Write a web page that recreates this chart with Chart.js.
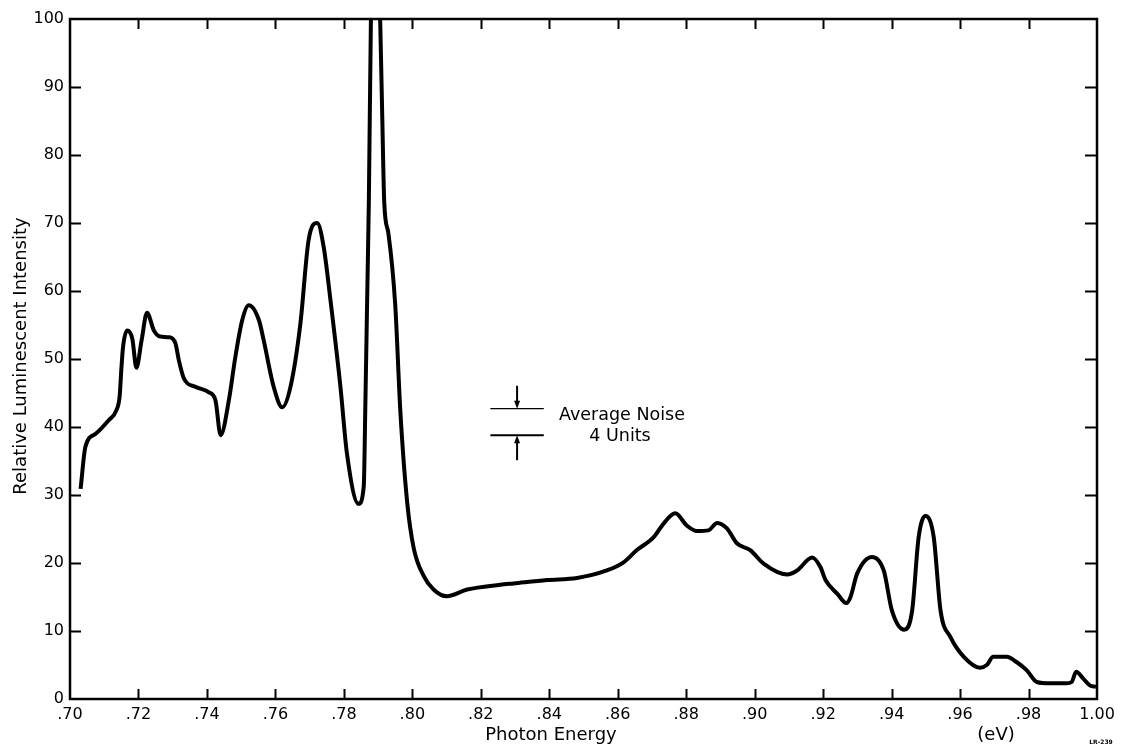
<!DOCTYPE html>
<html>
<head>
<meta charset="utf-8">
<title>Luminescence spectrum</title>
<script src="https://cdn.jsdelivr.net/npm/chart.js"></script>
<style>
  html, body { margin: 0; padding: 0; background: #fff; }
  #wrap { width: 1122px; height: 753px; }
</style>
</head>
<body>
<div id="wrap"><canvas id="chart" width="1122" height="753"></canvas></div>
<script>
// photon energy (eV) and relative luminescent intensity
const energy = [
  .7031, .7045, .7075, .7113, .7135, .7145, .7150, .7155, .7167, .7182,
  .7194, .7209, .7225, .7245, .7264, .7289, .7308, .7318, .7333, .7367,
  .7406, .7425, .7440, .7464, .7483, .7503, .7522, .7552, .7566, .7595,
  .7620, .7644, .7673, .7697, .7722, .7741, .7761, .7790, .7809, .7843,
  .7858, .7863, .7868, .7873, .7879, .7893, .7906, .7912, .7918, .7930,
  .7950, .7965, .7985, .8004, .8033, .8062, .8101, .8160, .8257, .8296,
  .8394, .8481, .8568, .8617, .8656, .8705, .8734, .8768, .8802, .8831,
  .8865, .8890, .8919, .8948, .8987, .9026, .9095, .9124, .9168, .9192,
  .9207, .9241, .9268, .9280, .9299, .9343, .9377, .9401, .9437, .9460,
  .9479, .9499, .9523, .9543, .9572, .9611, .9658, .9678, .9697, .9736,
  .9766, .9795, .9824, .9863, .9911, .9926, .9939, .9960, .9979, .9997
];
const intensity = [
  30.9, 37.1, 39.0, 41.0, 42.4, 44.5, 48.5, 51.8, 54.2, 53.0,
  48.7, 52.7, 56.8, 54.2, 53.3, 53.2, 52.3, 49.8, 47.1, 45.9,
  45.1, 43.9, 38.8, 43.9, 50.3, 55.7, 57.9, 55.7, 52.7, 45.9,
  42.9, 45.9, 55.2, 67.5, 70.0, 66.5, 58.6, 45.9, 36.1, 28.7,
  31.2, 43.9, 58.6, 73.3, 100, 125, 100, 86, 73, 68.5,
  58, 42.3, 28.9, 22.2, 18.1, 16.1, 15.1, 16.1, 16.8, 17.0,
  17.5, 17.8, 18.9, 20.1, 21.9, 23.8, 25.8, 27.3, 25.5, 24.7,
  24.8, 25.9, 25.1, 22.9, 21.9, 19.9, 18.3, 18.9, 20.8, 19.4,
  17.5, 15.5, 14.1, 15.0, 18.4, 20.9, 18.9, 13.0, 10.2, 13.0,
  23.8, 26.9, 23.8, 13.0, 9.1, 6.2, 4.6, 5.0, 6.2, 6.2,
  5.4, 4.2, 2.5, 2.3, 2.3, 2.5, 4.0, 3.0, 2.0, 1.8
];
const xTickLabels = ['.70', '.72', '.74', '.76', '.78', '.80', '.82', '.84', '.86', '.88',
                     '.90', '.92', '.94', '.96', '.98', '1.00'];
const yTickLabels = ['0', '10', '20', '30', '40', '50', '60', '70', '80', '90', '100'];
// "Average Noise 4 Units" bracket, in intensity units
const noiseLevels = [42.7, 38.8];
const noiseEnergy = [0.8228, 0.8384];

const FONT = 'DejaVu Sans';

// frame + inward ticks on all four sides, plus the loose labels
const framePlugin = {
  id: 'frame',
  afterDraw(chart) {
    const { ctx, chartArea: a, scales: { x, y } } = chart;
    ctx.save();
    ctx.strokeStyle = '#000';
    ctx.lineWidth = 2.5;
    ctx.strokeRect(a.left, a.top, a.right - a.left, a.bottom - a.top);

    ctx.lineWidth = 2;
    ctx.beginPath();
    x.ticks.forEach((t, i) => {
      if (i === 0 || i === x.ticks.length - 1) return;
      const px = Math.round(x.getPixelForValue(t.value)) + 0.5;
      ctx.moveTo(px, a.bottom); ctx.lineTo(px, a.bottom - 10);
      ctx.moveTo(px, a.top); ctx.lineTo(px, a.top + 10);
    });
    y.ticks.forEach((t, i) => {
      if (i === 0 || i === y.ticks.length - 1) return;
      const py = Math.round(y.getPixelForValue(t.value)) + 0.5;
      ctx.moveTo(a.left, py); ctx.lineTo(a.left + 11, py);
      ctx.moveTo(a.right, py); ctx.lineTo(a.right - 12, py);
    });
    ctx.stroke();

    // noise bracket
    const x0 = x.getPixelForValue(noiseEnergy[0]);
    const x1 = x.getPixelForValue(noiseEnergy[1]);
    const xm = (x0 + x1) / 2;
    const yTop = y.getPixelForValue(noiseLevels[0]);
    const yBot = y.getPixelForValue(noiseLevels[1]);
    ctx.lineWidth = 1.3;
    ctx.beginPath();
    ctx.moveTo(x0, yTop); ctx.lineTo(x1, yTop);
    ctx.stroke();
    ctx.lineWidth = 2;
    ctx.beginPath();
    ctx.moveTo(x0, yBot); ctx.lineTo(x1, yBot);
    ctx.moveTo(xm, yTop - 23); ctx.lineTo(xm, yTop - 5);
    ctx.moveTo(xm, yBot + 25); ctx.lineTo(xm, yBot + 5);
    ctx.stroke();
    ctx.fillStyle = '#000';
    ctx.beginPath();
    ctx.moveTo(xm, yTop); ctx.lineTo(xm - 3, yTop - 8); ctx.lineTo(xm + 3, yTop - 8); ctx.closePath();
    ctx.moveTo(xm, yBot); ctx.lineTo(xm - 3, yBot + 8); ctx.lineTo(xm + 3, yBot + 8); ctx.closePath();
    ctx.fill();

    ctx.textBaseline = 'middle';
    ctx.textAlign = 'center';
    ctx.font = '17.5px "' + FONT + '"';
    ctx.fillText('Average Noise', 622, 415);
    ctx.fillText('4 Units', 620, 436);

    ctx.font = '18px "' + FONT + '"';
    ctx.fillText('Photon Energy', 551, 735);
    ctx.fillText('(eV)', 996, 735);
    ctx.font = 'bold 6px "' + FONT + '"';
    ctx.fillText('LR-239', 1101, 742);

    ctx.translate(21, 356);
    ctx.rotate(-Math.PI / 2);
    ctx.font = '18px "' + FONT + '"';
    ctx.fillText('Relative Luminescent Intensity', 0, 0);
    ctx.restore();
  }
};

const ctx = document.getElementById('chart').getContext('2d');
new Chart(ctx, {
  type: 'line',
  data: {
    datasets: [{
      data: energy.map((e, i) => ({ x: e, y: intensity[i] })),
      borderColor: '#000',
      borderWidth: 4,
      pointRadius: 0,
      cubicInterpolationMode: 'monotone',
      clip: 0,
      fill: false
    }]
  },
  options: {
    responsive: false,
    animation: false,
    layout: { padding: { top: 19, right: 25, left: 0, bottom: 0 } },
    plugins: { legend: { display: false }, tooltip: { enabled: false } },
    scales: {
      x: {
        type: 'linear',
        min: 0.70,
        max: 1.00,
        afterFit: s => { s.height = 54; },
        grid: { display: false, drawTicks: false },
        border: { display: false },
        ticks: {
          stepSize: 0.02,
          padding: 6,
          maxRotation: 0,
          autoSkip: false,
          color: '#000',
          font: { family: FONT, size: 16 },
          callback: (v, i) => xTickLabels[i]
        }
      },
      y: {
        min: 0,
        max: 100,
        afterFit: s => { s.width = 70; },
        grid: { display: false, drawTicks: false },
        border: { display: false },
        ticks: {
          stepSize: 10,
          padding: 6,
          color: '#000',
          font: { family: FONT, size: 16 },
          callback: (v, i) => yTickLabels[i]
        }
      }
    }
  },
  plugins: [framePlugin]
});
</script>
</body>
</html>
